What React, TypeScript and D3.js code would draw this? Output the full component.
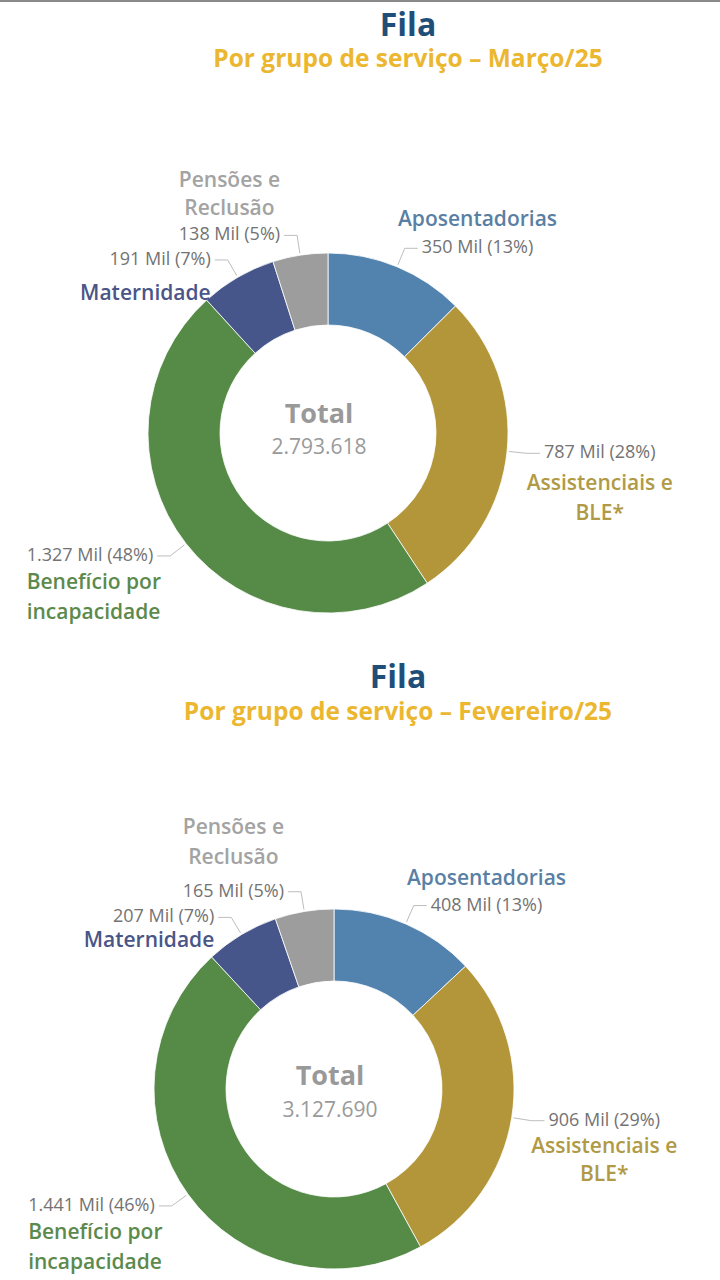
import React, { useRef, useEffect } from "react";
import * as d3 from "d3";

// categorias (ordem horária a partir do topo)
const categories = [
  "Aposentadorias",
  "Assistenciais e BLE*",
  "Benefício por incapacidade",
  "Maternidade",
  "Pensões e Reclusão",
];
const nameLines = [
  ["Aposentadorias"],
  ["Assistenciais e", "BLE*"],
  ["Benefício por", "incapacidade"],
  ["Maternidade"],
  ["Pensões e", "Reclusão"],
];
const sliceColors = ["#5283AE", "#B3963A", "#558A47", "#46568A", "#9D9D9D"];
const nameColors = ["#5A7FA4", "#B09A45", "#5C8A4D", "#4A5588", "#A3A3A3"];

// valores em mil
const marchValues = [350, 787, 1327, 191, 138];
const marchPct = [13, 28, 48, 7, 5];
const februaryValues = [408, 906, 1441, 207, 165];
const februaryPct = [13, 29, 46, 7, 5];

const marchTotal = "2.793.618";
const februaryTotal = "3.127.690";

const charts = [
  {
    subtitle: "Por grupo de serviço – Março/25",
    values: marchValues,
    pct: marchPct,
    total: marchTotal,
    cx: 328,
    cy: 433,
    titleX: 408,
    titleY: 36,
    subY: 67,
    centerDx: -9,
    totalDy: -10,
    numDy: 21,
    nameDy: [[-27], [32, 62], [28, 58], [35], [-53, -25]],
  },
  {
    subtitle: "Por grupo de serviço – Fevereiro/25",
    values: februaryValues,
    pct: februaryPct,
    total: februaryTotal,
    cx: 334,
    cy: 1089,
    titleX: 398,
    titleY: 688,
    subY: 720,
    centerDx: -4,
    totalDy: -4,
    numDy: 28,
    nameDy: [[-26], [27, 55], [28, 58], [25], [-63, -33]],
  },
];

const FONT = "'Open Sans', sans-serif";

const App = () => {
  const svgRef = useRef<SVGSVGElement>(null);

  useEffect(() => {
    const svg = d3.select(svgRef.current);
    svg.selectAll("*").remove();

    const br = d3.formatLocale({
      decimal: ",",
      thousands: ".",
      grouping: [3],
      currency: ["R$", ""],
    });
    const fmt = br.format(",");

    // linha cinza no topo
    svg.append("rect").attr("x", 0).attr("y", 0).attr("width", 720).attr("height", 2).attr("fill", "#8a8a8a");

    const outerR = 180;
    const innerR = 108;

    charts.forEach((c) => {
      // títulos
      svg
        .append("text")
        .attr("x", c.titleX)
        .attr("y", c.titleY)
        .attr("text-anchor", "middle")
        .attr("font-family", FONT)
        .attr("font-weight", 700)
        .attr("font-size", 32)
        .attr("fill", "#1F4E79")
        .text("Fila");
      svg
        .append("text")
        .attr("x", c.titleX)
        .attr("y", c.subY)
        .attr("text-anchor", "middle")
        .attr("font-family", FONT)
        .attr("font-weight", 700)
        .attr("font-size", 24.5)
        .attr("fill", "#ECB730")
        .text(c.subtitle);

      const g = svg.append("g").attr("transform", `translate(${c.cx},${c.cy})`);

      const pie = d3.pie<number>().sort(null).value((d) => d);
      const arcs = pie(c.values);
      const arc = d3.arc<d3.PieArcDatum<number>>().innerRadius(innerR).outerRadius(outerR);

      g.selectAll("path.slice")
        .data(arcs)
        .enter()
        .append("path")
        .attr("class", "slice")
        .attr("d", arc)
        .attr("fill", (d, i) => sliceColors[i])
        .attr("stroke", "#ffffff")
        .attr("stroke-width", 0.8);

      // rótulos centrais
      g.append("text")
        .attr("x", c.centerDx)
        .attr("y", c.totalDy)
        .attr("text-anchor", "middle")
        .attr("font-family", FONT)
        .attr("font-weight", 700)
        .attr("font-size", 27)
        .attr("fill", "#999999")
        .text("Total");
      g.append("text")
        .attr("x", c.centerDx)
        .attr("y", c.numDy)
        .attr("text-anchor", "middle")
        .attr("font-family", FONT)
        .attr("font-size", 21)
        .attr("fill", "#9a9a9a")
        .text(c.total);

      // linhas de chamada + rótulos
      arcs.forEach((d, i) => {
        const mid = (d.startAngle + d.endAngle) / 2;
        const sx = Math.sin(mid);
        const sy = -Math.cos(mid);
        const a = [sx * (outerR + 2), sy * (outerR + 2)];
        const b = [sx * (outerR + 20), sy * (outerR + 20)];
        const right = sx >= 0;
        const cpt = [b[0] + (right ? 13 : -13), b[1]];

        g.append("path")
          .attr("d", d3.line()([a as [number, number], b as [number, number], cpt as [number, number]]))
          .attr("fill", "none")
          .attr("stroke", "#bdbdbd")
          .attr("stroke-width", 1);

        const vx = cpt[0] + (right ? 4 : -4);
        const vy = cpt[1] + 5;
        const valText = g
          .append("text")
          .attr("x", vx)
          .attr("y", vy)
          .attr("text-anchor", right ? "start" : "end")
          .attr("font-family", FONT)
          .attr("font-size", 18)
          .attr("fill", "#737373")
          .text(`${fmt(c.values[i])} Mil (${c.pct[i]}%)`);

        const bb = (valText.node() as SVGTextElement).getBBox();
        let nx = bb.x + bb.width / 2;
        let anchor = "middle";
        if (i === 2) {
          nx = bb.x;
          anchor = "start";
        } else if (i === 3) {
          nx = bb.x + bb.width;
          anchor = "end";
        }

        nameLines[i].forEach((line, j) => {
          g.append("text")
            .attr("x", nx)
            .attr("y", vy + c.nameDy[i][j])
            .attr("text-anchor", anchor)
            .attr("font-family", FONT)
            .attr("font-weight", 600)
            .attr("font-size", 21)
            .attr("fill", nameColors[i])
            .text(line);
        });
      });
    });
  }, []);

  return (
    <div style={{ position: "absolute", left: 0, top: 0, width: 720, height: 1280, background: "#fff" }}>
      <svg ref={svgRef} width={720} height={1280} aria-label={categories.join(", ")}></svg>
    </div>
  );
};

export default App;
